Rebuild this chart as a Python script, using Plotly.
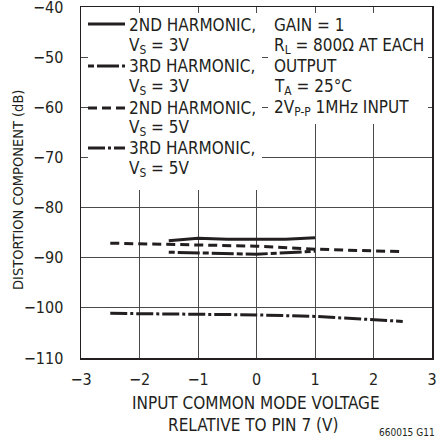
import plotly.graph_objects as go

# ---- data ----
x_2nd_3v = [-1.5, -1.0, -0.5, 0.5, 1.0]
y_2nd_3v = [-86.6, -86.1, -86.3, -86.3, -86.0]

x_3rd_3v = [-1.5, -1.0, 0.0, 0.5, 1.0]
y_3rd_3v = [-88.9, -89.0, -89.3, -89.0, -88.7]

x_2nd_5v = [-2.5, -1.5, -1.0, 0.0, 1.0, 2.0, 2.5]
y_2nd_5v = [-87.1, -87.3, -87.4, -87.7, -88.3, -88.6, -88.8]

x_3rd_5v = [-2.5, -1.0, 0.0, 1.0, 2.0, 2.5]
y_3rd_5v = [-101.1, -101.3, -101.4, -101.7, -102.3, -102.7]

x_ticks = [-3, -2, -1, 0, 1, 2, 3]
y_ticks = [-110, -100, -90, -80, -70, -60, -50, -40]

legend_lines = [
    "2ND HARMONIC,", "V<sub>S</sub> = 3V",
    "3RD HARMONIC,", "V<sub>S</sub> = 3V",
    "2ND HARMONIC,", "V<sub>S</sub> = 5V",
    "3RD HARMONIC,", "V<sub>S</sub> = 5V",
]
cond_lines = [
    "GAIN = 1",
    "R<sub>L</sub> = 800Ω AT EACH",
    "OUTPUT",
    "T<sub>A</sub> = 25°C",
    "2V<sub>P-P</sub> 1MHz INPUT",
]

FONT = "DejaVu Sans Condensed, Liberation Sans Narrow, Arial Narrow, sans-serif"
INK = "#231f20"

styles = [
    dict(dash="solid", width=3),
    dict(dash="6px,3px,22px,3px", width=3),
    dict(dash="9px,5px", width=3),
    dict(dash="17px,3px,3px,3px", width=3),
]

fig = go.Figure()
series = [(x_2nd_3v, y_2nd_3v), (x_3rd_3v, y_3rd_3v), (x_2nd_5v, y_2nd_5v), (x_3rd_5v, y_3rd_5v)]
for (xs, ys), st in zip(series, styles):
    fig.add_trace(go.Scatter(x=xs, y=ys, mode="lines",
                             line=dict(color=INK, width=st["width"], dash=st["dash"]),
                             showlegend=False, hoverinfo="skip"))

# plot geometry helpers (pixel -> data), plot area 81..432 x 7..358
L, T, W, H = 81, 7, 351, 351
def xd(px):
    return -3 + (px - L) / W * 6
def yd(py):
    return -40 - (py - T) / H * 70
def xp(px):
    return (px - L) / W
def yp(py):
    return 1 - (py - T) / H

shapes = []
# white boxes masking the grid behind the text blocks
shapes.append(dict(type="rect", xref="x", yref="y", x0=xd(88), x1=xd(262), y0=yd(13), y1=yd(190),
                   fillcolor="white", line=dict(width=0), layer="between"))
shapes.append(dict(type="rect", xref="x", yref="y", x0=xd(268), x1=xd(428), y0=yd(13), y1=yd(124),
                   fillcolor="white", line=dict(width=0), layer="between"))

# legend key lines
sym_y = [24, 66, 108, 148]
for py, st in zip(sym_y, styles):
    shapes.append(dict(type="line", xref="x", yref="y", x0=xd(88), x1=xd(125), y0=yd(py), y1=yd(py),
                       line=dict(color=INK, width=st["width"], dash=st["dash"])))

annotations = []
left_y = [25, 46, 66, 87, 108, 128, 148, 169]
for txt, py in zip(legend_lines, left_y):
    annotations.append(dict(x=xd(128), y=yd(py), xref="x", yref="y", text=txt, showarrow=False,
                            xanchor="left", yanchor="middle", height=18, borderpad=0,
                            font=dict(family=FONT, size=17, color=INK)))
right_y = [25, 46, 66, 87, 108]
for txt, py in zip(cond_lines, right_y):
    annotations.append(dict(x=xd(273), y=yd(py), xref="x", yref="y", text=txt, showarrow=False,
                            xanchor="left", yanchor="middle", height=18, borderpad=0,
                            font=dict(family=FONT, size=17, color=INK)))

# axis titles
annotations.append(dict(x=xp(256), y=yp(403), xref="paper", yref="paper",
                        text="INPUT COMMON MODE VOLTAGE", showarrow=False,
                        xanchor="center", yanchor="middle", font=dict(family=FONT, size=17, color=INK)))
annotations.append(dict(x=xp(253), y=yp(425), xref="paper", yref="paper",
                        text="RELATIVE TO PIN 7 (V)", showarrow=False,
                        xanchor="center", yanchor="middle", font=dict(family=FONT, size=17, color=INK)))
annotations.append(dict(x=xp(18), y=yp(190), xref="paper", yref="paper",
                        text="DISTORTION COMPONENT (dB)", showarrow=False, textangle=-90,
                        xanchor="center", yanchor="middle", font=dict(family=FONT, size=14.5, color=INK)))
annotations.append(dict(x=xp(437), y=yp(432), xref="paper", yref="paper", text="660015 G11",
                        showarrow=False, xanchor="right", yanchor="middle",
                        font=dict(family=FONT, size=10, color=INK)))

fig.update_layout(
    width=445, height=440,
    margin=dict(l=L, r=445 - L - W, t=T, b=440 - T - H, pad=0),
    paper_bgcolor="white", plot_bgcolor="white",
    font=dict(family=FONT, size=16, color=INK),
    shapes=shapes, annotations=annotations,
    hovermode=False,
    xaxis=dict(range=[-3, 3], tickvals=x_ticks, showgrid=True, gridcolor="#4a4a4a", gridwidth=1,
               showline=True, linecolor=INK, linewidth=1.5, mirror=True, zeroline=False,
               ticks="outside", ticklen=6, tickcolor="rgba(0,0,0,0)", automargin=False,
               ticklabeloverflow="allow",
               tickfont=dict(family=FONT, size=16, color=INK)),
    yaxis=dict(range=[-110, -40], tickvals=y_ticks, showgrid=True, gridcolor="#4a4a4a", gridwidth=1,
               showline=True, linecolor=INK, linewidth=1.5, mirror=True, zeroline=False,
               ticks="outside", ticklen=13, tickcolor="rgba(0,0,0,0)", automargin=False,
               ticklabeloverflow="allow",
               tickfont=dict(family=FONT, size=16, color=INK)),
)

fig.write_html("out.html", config={"displayModeBar": False, "staticPlot": True},
               post_script="document.body.style.margin='0';document.body.style.padding='0';")
